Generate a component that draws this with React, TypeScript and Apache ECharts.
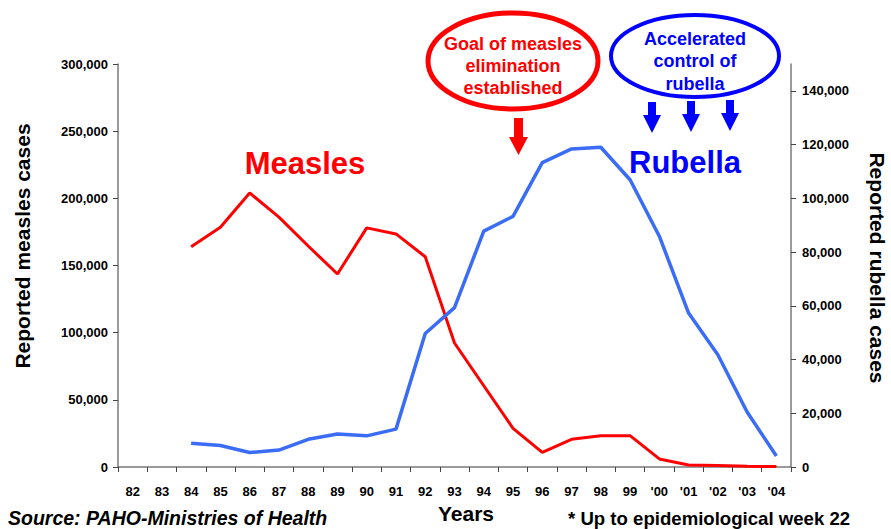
import React, { useEffect, useRef } from "react";
import * as echarts from "echarts";

const years = ["82", "83", "84", "85", "86", "87", "88", "89", "90", "91", "92", "93", "94", "95", "96", "97", "98", "99", "'00", "'01", "'02", "'03", "'04"];
const measles = [null, null, 164000, 178500, 204000, 186000, 164500, 143700, 178000, 173500, 156500, 92300, 60500, 28800, 10900, 20600, 23300, 23300, 6000, 1500, 1200, 500, 300];
const rubella = [null, null, 8800, 8000, 5400, 6300, 10300, 12300, 11600, 14100, 49700, 59300, 87800, 93300, 113300, 118400, 119000, 106900, 85900, 57300, 41800, 20500, 4100];
const rubellaTicks = [0, 20000, 40000, 60000, 80000, 100000, 120000, 140000];

const FONT = '"Liberation Sans", Arial, sans-serif';

function arrow(cx: number, top: number, headTop: number, bottom: number, sw: number, hw: number) {
  return [
    [cx - sw / 2, top],
    [cx + sw / 2, top],
    [cx + sw / 2, headTop],
    [cx + hw / 2, headTop],
    [cx, bottom],
    [cx - hw / 2, headTop],
    [cx - sw / 2, headTop],
  ];
}

export default function App() {
  const ref = useRef<HTMLDivElement>(null);
  useEffect(() => {
    if (!ref.current) return;
    const chart = echarts.init(ref.current, null, { renderer: "svg" });
    const fmt = (v: number) => v.toLocaleString("en-US");
    const axisLine = { show: true, lineStyle: { color: "#7a7a7a", width: 1.5 } };
    const axisTick = { show: true, inside: false, length: 5, lineStyle: { color: "#444", width: 1 } };
    const labelStyle = { color: "#000", fontWeight: "bold" as const, fontSize: 13, fontFamily: FONT };
    chart.setOption({
      animation: false,
      backgroundColor: "#fff",
      grid: { left: 118, right: 100, top: 64, bottom: 62, containLabel: false },
      xAxis: {
        type: "category",
        data: years,
        boundaryGap: true,
        axisLine,
        axisTick: { ...axisTick, alignWithLabel: false },
        axisLabel: { ...labelStyle, margin: 18, interval: 0 },
        splitLine: { show: false },
      },
      yAxis: [
        {
          type: "value",
          min: 0,
          max: 300000,
          interval: 50000,
          position: "left",
          axisLine,
          axisTick,
          axisLabel: { ...labelStyle, margin: 10, formatter: fmt },
          splitLine: { show: false },
        },
        {
          type: "value",
          min: 0,
          max: 150000,
          interval: 20000,
          position: "right",
          axisLine,
          axisTick: { ...axisTick, customValues: rubellaTicks },
          axisLabel: { ...labelStyle, margin: 11, formatter: fmt, customValues: rubellaTicks },
          splitLine: { show: false },
        },
      ],
      series: [
        {
          type: "line",
          name: "Measles",
          yAxisIndex: 0,
          data: measles,
          symbol: "none",
          lineStyle: { color: "#ff0000", width: 3 },
          itemStyle: { color: "#ff0000" },
        },
        {
          type: "line",
          name: "Rubella",
          yAxisIndex: 1,
          data: rubella,
          symbol: "none",
          lineStyle: { color: "#3a6cf6", width: 3.5 },
          itemStyle: { color: "#3a6cf6" },
        },
      ],
      graphic: [
        {
          type: "text",
          x: 22,
          y: 246,
          rotation: Math.PI / 2,
          style: { text: "Reported measles cases", fill: "#000", font: `bold 21px ${FONT}`, align: "center", verticalAlign: "middle" },
        },
        {
          type: "text",
          x: 877,
          y: 268,
          rotation: -Math.PI / 2,
          style: { text: "Reported rubella cases", fill: "#000", font: `bold 21px ${FONT}`, align: "center", verticalAlign: "middle" },
        },
        {
          type: "text",
          x: 466,
          y: 513,
          style: { text: "Years", fill: "#000", font: `bold 21px ${FONT}`, align: "center", verticalAlign: "middle" },
        },
        {
          type: "text",
          x: 8,
          y: 518,
          style: { text: "Source: PAHO-Ministries of Health", fill: "#000", font: `italic bold 19.5px ${FONT}`, align: "left", verticalAlign: "middle" },
        },
        {
          type: "text",
          x: 568,
          y: 518,
          style: { text: "* Up to epidemiological week 22", fill: "#000", font: `bold 18.6px ${FONT}`, align: "left", verticalAlign: "middle" },
        },
        {
          type: "text",
          x: 305,
          y: 163,
          style: { text: "Measles", fill: "#ff0000", font: `bold 31px ${FONT}`, align: "center", verticalAlign: "middle" },
        },
        {
          type: "text",
          x: 685,
          y: 162,
          style: { text: "Rubella", fill: "#0000ff", font: `bold 31px ${FONT}`, align: "center", verticalAlign: "middle" },
        },
        {
          type: "ellipse",
          shape: { cx: 513, cy: 61, rx: 85, ry: 48 },
          style: { fill: "#fff", stroke: "#ff0000", lineWidth: 5 },
        },
        {
          type: "text",
          x: 513,
          y: 66,
          style: { text: "Goal of measles\nelimination\nestablished", fill: "#ff0000", font: `bold 18px ${FONT}`, lineHeight: 22, align: "center", verticalAlign: "middle" },
        },
        {
          type: "polygon",
          shape: { points: arrow(518.5, 118, 137, 155, 9, 19) },
          style: { fill: "#ff0000" },
        },
        {
          type: "ellipse",
          shape: { cx: 695, cy: 56, rx: 84, ry: 41 },
          style: { fill: "#fff", stroke: "#0000ff", lineWidth: 4 },
        },
        {
          type: "text",
          x: 695,
          y: 61,
          style: { text: "Accelerated\ncontrol of\nrubella", fill: "#0000ff", font: `bold 18px ${FONT}`, lineHeight: 22.5, align: "center", verticalAlign: "middle" },
        },
        { type: "polygon", shape: { points: arrow(652, 102, 115, 133, 8, 18) }, style: { fill: "#0000ff" } },
        { type: "polygon", shape: { points: arrow(691, 101, 114, 132, 8, 18) }, style: { fill: "#0000ff" } },
        { type: "polygon", shape: { points: arrow(730, 100, 113, 131, 8, 18) }, style: { fill: "#0000ff" } },
      ],
    });
    return () => chart.dispose();
  }, []);
  return <div ref={ref} style={{ position: "fixed", left: 0, top: 0, width: 891, height: 529 }} />;
}
